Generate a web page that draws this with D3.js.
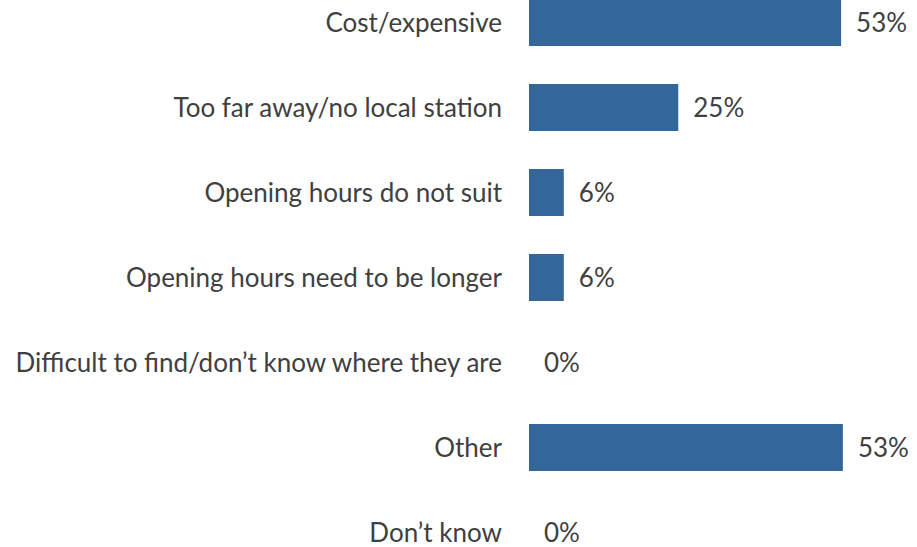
<!DOCTYPE html>
<html>
<head>
<meta charset="utf-8">
<script src="https://cdn.jsdelivr.net/npm/d3@7"></script>
<style>
  html, body { margin: 0; padding: 0; background: #fff; }
  svg { display: block; }
</style>
</head>
<body>
<svg id="chart" width="917" height="547"></svg>
<script>
const categories = [
  "Cost/expensive",
  "Too far away/no local station",
  "Opening hours do not suit",
  "Opening hours need to be longer",
  "Difficult to find/don\u2019t know where they are",
  "Other",
  "Don\u2019t know"
];
const values = [52.9, 25.3, 5.9, 5.9, 0, 53.2, 0];
const valueLabels = ["53%", "25%", "6%", "6%", "0%", "53%", "0%"];

const svg = d3.select("#chart");
const font = "Lato, 'Open Sans', sans-serif";

const y = d3.scaleBand()
  .domain(categories)
  .range([-20, 575])
  .paddingInner(0.447)
  .paddingOuter(0.2235);

const x = d3.scaleLinear().domain([0, 100]).range([529, 529 + 590]);

const rows = svg.selectAll("g.row")
  .data(categories.map((c, i) => ({ c, v: values[i], l: valueLabels[i] })))
  .enter().append("g").attr("class", "row");

rows.append("rect")
  .attr("x", x(0))
  .attr("y", d => y(d.c))
  .attr("width", d => x(d.v) - x(0))
  .attr("height", y.bandwidth())
  .attr("fill", "#336699");

rows.append("text")
  .attr("x", 502)
  .attr("y", d => y(d.c) + y.bandwidth() / 2)
  .attr("dy", "0.35em")
  .attr("text-anchor", "end")
  .attr("font-family", font)
  .attr("font-size", 26)
  .attr("fill", "#404040")
  .text(d => d.c);

rows.append("text")
  .attr("x", d => x(d.v) + 15)
  .attr("y", d => y(d.c) + y.bandwidth() / 2)
  .attr("dy", "0.35em")
  .attr("text-anchor", "start")
  .attr("font-family", font)
  .attr("font-size", 26)
  .attr("fill", "#404040")
  .text(d => d.l);
</script>
</body>
</html>
